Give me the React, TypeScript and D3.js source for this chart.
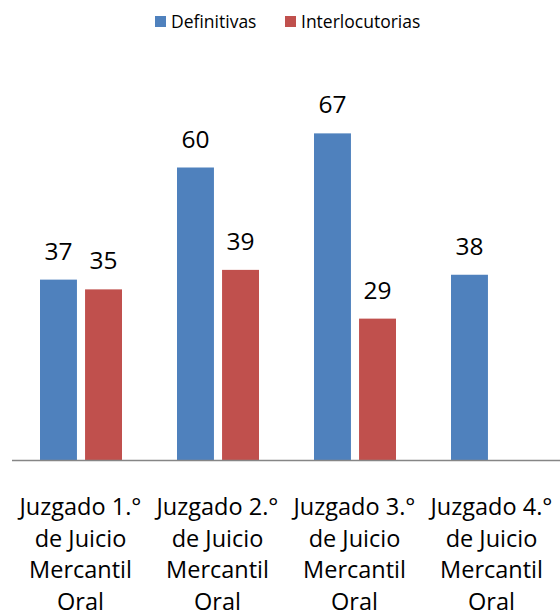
import React from "react";
import * as d3 from "d3";

const categories = [
  ["Juzgado 1.°", "de Juicio", "Mercantil", "Oral"],
  ["Juzgado 2.°", "de Juicio", "Mercantil", "Oral"],
  ["Juzgado 3.°", "de Juicio", "Mercantil", "Oral"],
  ["Juzgado 4.°", "de Juicio", "Mercantil", "Oral"],
];
const seriesNames = ["Definitivas", "Interlocutorias"];
const definitivas: (number | null)[] = [37, 60, 67, 38];
const interlocutorias: (number | null)[] = [35, 39, 29, null];
const colors = ["#4F81BD", "#C0504D"];

const W = 560;
const H = 616;
const FONT = "Open Sans, Liberation Sans, sans-serif";

export default function App() {
  const x0 = d3
    .scaleBand<number>()
    .domain(categories.map((_, i) => i))
    .range([12, 560]);
  const x1 = d3
    .scaleBand<number>()
    .domain([0, 1])
    .range([28, 110])
    .paddingInner(0.18);
  const y = d3.scaleLinear().domain([0, 80]).range([460, 70]);
  const series = [definitivas, interlocutorias];

  return (
    <svg width={W} height={H} style={{ display: "block", position: "absolute", left: 0, top: 0 }}>
      <rect width={W} height={H} fill="#fff" />
      {/* legend */}
      <g fontFamily={FONT} fontSize={17.5} fill="#000">
        <rect x={155} y={16} width={11} height={11} fill={colors[0]} />
        <text x={171} y={27.5}>{seriesNames[0]}</text>
        <rect x={285} y={16} width={11} height={11} fill={colors[1]} />
        <text x={301} y={27.5}>{seriesNames[1]}</text>
      </g>
      {/* bars */}
      {categories.map((_, ci) => (
        <g key={ci} transform={`translate(${x0(ci)},0)`}>
          {series.map((s, si) => {
            const v = s[ci];
            if (v == null) return null;
            const bx = x1(si)!;
            return (
              <g key={si}>
                <rect x={bx} y={y(v)} width={x1.bandwidth()} height={y(0) - y(v)} fill={colors[si]} />
                <text
                  x={bx + x1.bandwidth() / 2}
                  y={y(v) - 20}
                  textAnchor="middle"
                  fontFamily={FONT}
                  fontSize={24.5}
                  fill="#000"
                >
                  {v}
                </text>
              </g>
            );
          })}
        </g>
      ))}
      {/* axis */}
      <line x1={12} x2={560} y1={460.5} y2={460.5} stroke="#868686" strokeWidth={1.5} />
      {/* category labels */}
      {categories.map((lines, ci) => (
        <text
          key={ci}
          x={x0(ci)! + x0.bandwidth() / 2}
          textAnchor="middle"
          fontFamily={FONT}
          fontSize={23.5}
          fill="#000"
        >
          {lines.map((l, li) => (
            <tspan key={li} x={x0(ci)! + x0.bandwidth() / 2} y={515 + li * 31.7}>
              {l}
            </tspan>
          ))}
        </text>
      ))}
    </svg>
  );
}
